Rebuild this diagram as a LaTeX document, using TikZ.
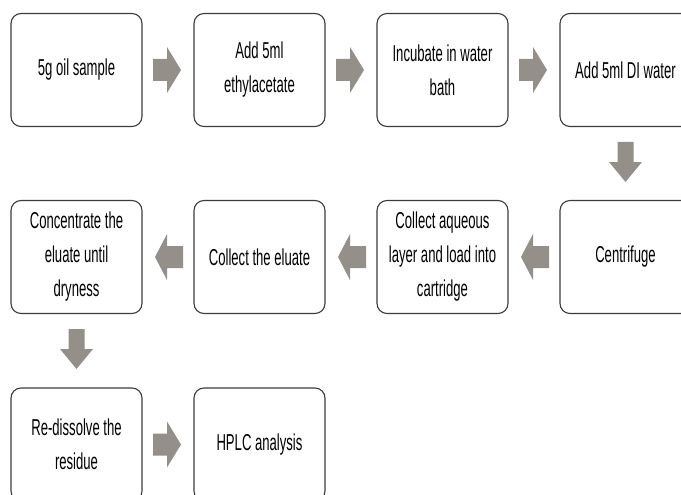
\documentclass[tikz,border=0pt]{standalone}
\usepackage{fontspec}
\newfontfamily\narrowfont[FakeStretch=0.57]{Liberation Sans}
\definecolor{arrowgray}{RGB}{148,143,137}
\definecolor{boxline}{RGB}{60,60,60}
\tikzset{
  stepbox/.style={draw=boxline, line width=1.1pt, rounded corners=10pt, fill=white,
    minimum width=131pt, minimum height=113pt, inner sep=2pt, align=center,
    font=\narrowfont\fontsize{23}{34}\selectfont},
  blockarrow/.style={fill=arrowgray, draw=none}
}
\newcommand\rarrow[2]{\fill[blockarrow] (#1,#2) ++(0,-11) -- ++(14,0) -- ++(0,-12) -- ++(14,23) -- ++(-14,23) -- ++(0,-12) -- ++(-14,0) -- cycle;}
\newcommand\larrow[2]{\fill[blockarrow] (#1,#2) ++(0,-11) -- ++(-16,0) -- ++(0,-12) -- ++(-12,23) -- ++(12,23) -- ++(0,-12) -- ++(16,0) -- cycle;}
\newcommand\darrow[2]{\fill[blockarrow] (#1,#2) ++(-8,0) -- ++(16,0) -- ++(0,20) -- ++(8.5,0) -- ++(-16.5,20) -- ++(-16.5,-20) -- ++(8.5,0) -- cycle;}
\begin{document}
\begin{tikzpicture}[x=1pt,y=-1pt]
\useasboundingbox (0,0) rectangle (681,495);
\clip (0,0) rectangle (681,495);
% row 1
\node[stepbox] (b1) at (76.5,70) {5g oil sample};
\node[stepbox] (b2) at (259.5,70) {Add 5ml\\ethylacetate};
\node[stepbox] (b3) at (442.5,70) {Incubate in water\\bath};
\node[stepbox] (b4) at (625.5,70) {Add 5ml DI water};
% row 2
\node[stepbox] (b5) at (625.5,257) {Centrifuge};
\node[stepbox] (b6) at (442.5,257) {Collect aqueous\\layer and load into\\cartridge};
\node[stepbox] (b7) at (259.5,257) {Collect the eluate};
\node[stepbox] (b8) at (76.5,257) {Concentrate the\\eluate until\\dryness};
% row 3
\node[stepbox] (b9) at (76.5,444.5) {Re-dissolve the\\residue};
\node[stepbox] (b10) at (259.5,444.5) {HPLC analysis};
% arrows
\rarrow{153}{70}
\rarrow{336}{70}
\rarrow{519}{70}
\darrow{625.5}{142}
\larrow{549}{257}
\larrow{366}{257}
\larrow{183}{257}
\darrow{76.5}{329}
\rarrow{153}{444.5}
\end{tikzpicture}
\end{document}
